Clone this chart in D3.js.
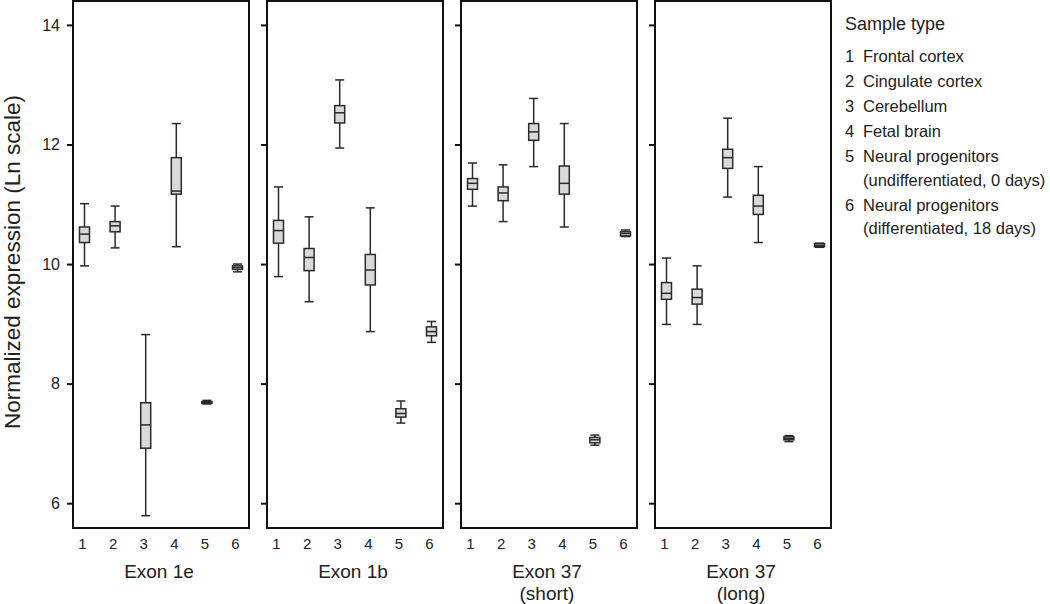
<!DOCTYPE html>
<html>
<head>
<meta charset="utf-8">
<script src="https://cdn.jsdelivr.net/npm/d3@7"></script>
<style>
  html, body { margin: 0; padding: 0; background: #fff; }
  svg { display: block; font-family: "Liberation Sans", Arial, Helvetica, sans-serif; }
</style>
</head>
<body>
<svg id="chart" width="1050" height="604"></svg>
<script>
// ---- Data (five-number summaries: [whiskerLow, q1, median, q3, whiskerHigh]) ----
const categories = ["1", "2", "3", "4", "5", "6"];
const panelTitles = [["Exon 1e"], ["Exon 1b"], ["Exon 37", "(short)"], ["Exon 37", "(long)"]];
const yTicks = [6, 8, 10, 12, 14];
const legendTitle = "Sample type";
const legendItems = [
  ["Frontal cortex"],
  ["Cingulate cortex"],
  ["Cerebellum"],
  ["Fetal brain"],
  ["Neural progenitors", "(undifferentiated, 0 days)"],
  ["Neural progenitors", "(differentiated, 18 days)"]
];
const yTitle = "Normalized expression (Ln scale)";

const exon1e = [
  [9.97, 10.36, 10.50, 10.62, 11.01],
  [10.27, 10.54, 10.64, 10.71, 10.97],
  [5.79, 6.92, 7.31, 7.68, 8.82],
  [10.29, 11.17, 11.22, 11.78, 12.35],
  [7.66, 7.67, 7.69, 7.70, 7.72],
  [9.87, 9.91, 9.94, 9.97, 10.00]
];
const exon1b = [
  [9.79, 10.35, 10.56, 10.73, 11.29],
  [9.37, 9.89, 10.11, 10.26, 10.79],
  [11.94, 12.36, 12.53, 12.65, 13.08],
  [8.87, 9.65, 9.90, 10.16, 10.94],
  [7.34, 7.44, 7.50, 7.58, 7.71],
  [8.69, 8.80, 8.87, 8.95, 9.04]
];
const exon37short = [
  [10.97, 11.25, 11.35, 11.43, 11.69],
  [10.71, 11.06, 11.19, 11.29, 11.66],
  [11.63, 12.07, 12.21, 12.35, 12.77],
  [10.62, 11.17, 11.35, 11.64, 12.35],
  [6.97, 7.01, 7.06, 7.10, 7.14],
  [10.46, 10.47, 10.51, 10.54, 10.57]
];
const exon37long = [
  [8.99, 9.41, 9.51, 9.69, 10.10],
  [8.99, 9.33, 9.44, 9.58, 9.97],
  [11.12, 11.60, 11.78, 11.92, 12.44],
  [10.36, 10.83, 10.97, 11.15, 11.63],
  [7.03, 7.06, 7.08, 7.11, 7.13],
  [10.28, 10.29, 10.31, 10.34, 10.35]
];
const panelData = [exon1e, exon1b, exon37short, exon37long];

// ---- Layout ----
const svg = d3.select("#chart");
const textColor = "#222";
const plotTop = 1, plotBottom = 528;

const y = d3.scaleLinear().domain([5.585, 14.4]).range([plotBottom, plotTop]);
const panelScale = d3.scaleBand()
  .domain(d3.range(panelData.length))
  .range([73, 831])
  .paddingInner(18 / 194)
  .paddingOuter(0);
const pw = panelScale.bandwidth();
const x = d3.scalePoint().domain(categories).range([11.5, pw - 11.5]);

const boxW = 10, capW = 9;

panelData.forEach((data, pi) => {
  const g = svg.append("g").attr("transform", `translate(${panelScale(pi)},0)`);

  // y axis ticks (outside, left)
  const axis = d3.axisLeft(y).tickValues(yTicks).tickSize(6).tickPadding(7)
    .tickFormat(pi === 0 ? d3.format("d") : () => "");
  const ag = g.append("g").call(axis);
  ag.select(".domain").remove();
  ag.selectAll(".tick line").attr("stroke", "#111").attr("stroke-width", 2);
  ag.selectAll(".tick text").attr("fill", textColor)
    .style("font-size", "16px").style("font-family", "Liberation Sans, Arial, sans-serif");

  // boxes
  const bg = g.selectAll(".box").data(data).join("g")
    .attr("class", "box")
    .attr("transform", (d, i) => `translate(${x(categories[i])},0)`);
  const st = "#2a2a2a", sw = 1.5;
  bg.append("line").attr("x1", 0).attr("x2", 0)
    .attr("y1", d => y(d[4])).attr("y2", d => y(d[0]))
    .attr("stroke", st).attr("stroke-width", sw);
  bg.append("line").attr("x1", -capW / 2).attr("x2", capW / 2)
    .attr("y1", d => y(d[4])).attr("y2", d => y(d[4]))
    .attr("stroke", st).attr("stroke-width", sw);
  bg.append("line").attr("x1", -capW / 2).attr("x2", capW / 2)
    .attr("y1", d => y(d[0])).attr("y2", d => y(d[0]))
    .attr("stroke", st).attr("stroke-width", sw);
  bg.append("rect").attr("x", -boxW / 2).attr("width", boxW)
    .attr("y", d => y(d[3])).attr("height", d => Math.max(1, y(d[1]) - y(d[3])))
    .attr("fill", "#d9d9d9").attr("stroke", st).attr("stroke-width", sw);
  bg.append("line").attr("x1", -boxW / 2).attr("x2", boxW / 2)
    .attr("y1", d => y(d[2])).attr("y2", d => y(d[2]))
    .attr("stroke", st).attr("stroke-width", sw);

  // panel frame
  g.append("rect").attr("x", 0).attr("y", plotTop).attr("width", pw)
    .attr("height", plotBottom - plotTop)
    .attr("fill", "none").attr("stroke", "#111").attr("stroke-width", 2);

  // x category labels
  g.selectAll(".xl").data(categories).join("text")
    .attr("x", d => x(d) - 2).attr("y", 549)
    .attr("text-anchor", "middle").attr("fill", textColor)
    .style("font-size", "15px").text(d => d);

  // panel title
  panelTitles[pi].forEach((t, li) => {
    g.append("text").attr("x", pw / 2 - 2).attr("y", 578 + li * 22)
      .attr("text-anchor", "middle").attr("fill", textColor)
      .style("font-size", "19px").text(t);
  });
});

// y title
svg.append("text")
  .attr("transform", "translate(20,262) rotate(-90)")
  .attr("text-anchor", "middle").attr("fill", textColor)
  .style("font-size", "22.5px").text(yTitle);

// legend
svg.append("text").attr("x", 845).attr("y", 30).attr("fill", textColor)
  .style("font-size", "18px").text(legendTitle);
const itemY = [62, 87, 112, 137, 162, 210.5];
legendItems.forEach((lines, i) => {
  svg.append("text").attr("x", 845).attr("y", itemY[i]).attr("fill", textColor)
    .style("font-size", "16.5px").text(String(i + 1));
  lines.forEach((t, li) => {
    svg.append("text").attr("x", 863).attr("y", itemY[i] + li * 23.5).attr("fill", textColor)
      .style("font-size", "16.5px").text(t);
  });
});
</script>
</body>
</html>
